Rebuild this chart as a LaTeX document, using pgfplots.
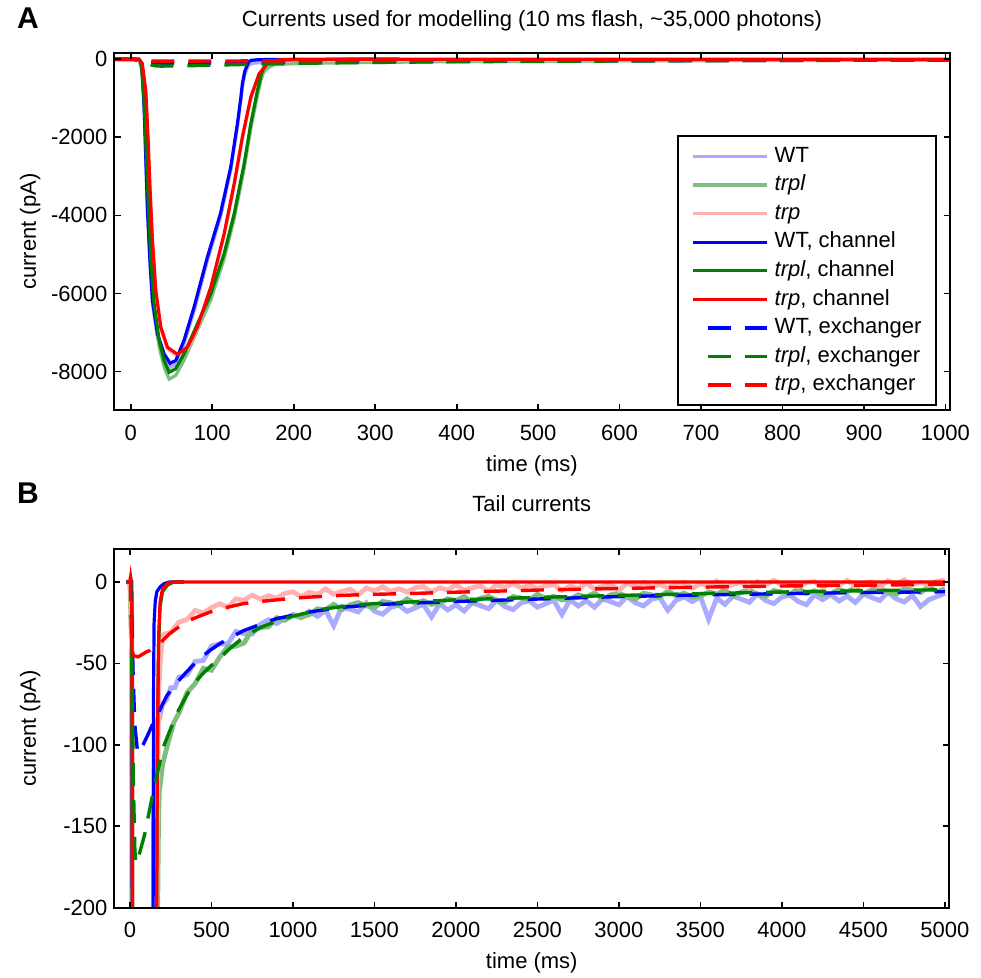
\documentclass[border=0pt]{standalone}
\usepackage{fontspec}
\setmainfont{Liberation Sans}
\usepackage{pgfplots}
\usepackage{pgfplotstable}
\pgfplotsset{compat=1.18}

\definecolor{wtl}{RGB}{170,170,255}
\definecolor{trpll}{RGB}{128,190,128}
\definecolor{trpl}{RGB}{255,178,178}
\definecolor{mblue}{RGB}{0,0,255}
\definecolor{mgreen}{RGB}{0,128,0}
\definecolor{mred}{RGB}{255,0,0}

% ---------- channel currents (model) ----------
\pgfplotstableread{
t I
-20 0
0 0
10 0
12 -50
14.3 -370
16.4 -1220
18.4 -2500
20.4 -3790
23.3 -5070
26.6 -6180
32.7 -7030
40.9 -7550
48.3 -7790
55.2 -7720
65.4 -7200
77.7 -6350
94 -5070
110 -3960
122.7 -2760
130.9 -1650
135 -1000
137 -620
140 -300
143 -150
145 -60
148 -25
155 -12
165 -6
185 -3
210 -1
245 0
330 0
}\wtch
\pgfplotstableread{
t I
-20 0
0 0
10 0
13 -100
16.4 -1050
19.2 -2500
21.7 -3790
24.5 -5070
28.6 -6260
34.8 -7200
40.9 -7720
47 -8020
55.2 -7930
65.4 -7550
81.8 -6780
98.2 -6010
114.6 -4980
126.9 -3960
139.2 -2670
147.3 -1650
155.5 -800
160 -400
163 -220
166 -150
170 -90
175 -40
185 -15
200 -6
230 -2
270 0
330 0
}\trplch
\pgfplotstableread{
t I
-20 0
0 0
4 3
8 0
10 0
14 -100
18.4 -800
21.3 -2080
23.7 -3360
26.6 -4640
30.7 -5920
36.8 -6860
45 -7380
57.2 -7560
69.5 -7380
81.8 -6860
98.2 -5840
114.6 -4470
126.9 -3190
137 -1990
147.3 -970
157.5 -370
167.8 -110
172 -60
177 -30
185 -12
200 -4
230 -1
260 0
5000 0
}\trpch

% ---------- exchanger currents (model) ----------
\pgfplotstableread{
t I
-20 0
5 0
10 -20
20 -60
30 -88
47 -105
80 -100
109 -94
140 -87
181 -79
225 -70
286 -62
340 -56
388 -51
440 -46
491 -42
550 -38
600 -35
695 -30
800 -26
900 -22.5
1000 -20.5
1100 -18.5
1200 -17
1310 -15.5
1500 -14
1720 -13
2000 -12
2500 -10.5
3000 -9
3500 -8
4000 -7.2
4500 -6.5
5000 -6
}\wtex
\pgfplotstableread{
t I
-20 0
5 0
10 -40
20 -120
30 -165
37 -173
60 -166
90 -155
120 -140
150 -125
180 -112
210 -100
250 -90
286 -81
340 -71
388 -63
440 -57
491 -52
550 -47
600 -42
695 -34
800 -28
900 -24
1000 -21
1104 -18.5
1200 -16.5
1310 -15
1500 -13.3
1720 -12.3
2000 -11
2500 -9.5
3000 -8.3
3500 -7.2
4000 -6.2
4500 -5.4
5000 -4.8
}\trplex
\pgfplotstableread{
t I
-20 0
3 0
8 -25
15 -45
50 -46
100 -43
123 -42
181 -38
240 -32
286 -28.6
340 -25
388 -22.5
440 -20.5
491 -18.5
600 -15.5
695 -13.3
800 -12
900 -11
1000 -10
1104 -9.3
1310 -8.2
1500 -7.6
1720 -7.1
2000 -6.3
2500 -5
3000 -4
3500 -3.2
4000 -2.5
4500 -2
5000 -1.5
}\trpex

% ---------- measured currents ----------
\pgfplotstableread{
t I
-20 0
0 0
10 -20
12 -80
14.3 -430
16.4 -1290
18.4 -2580
20.4 -3880
23.3 -5160
26.6 -6280
32.7 -7130
40.9 -7655
48.3 -7895
55.2 -7820
65.4 -7300
77.7 -6450
94 -5165
110 -4055
122.7 -2850
130.9 -1740
137 -710
140 -390
143 -235
145 -150
148 -115
152 -95
155 -91
165 -85
180 -84
200 -75
225 -72
250 -65
275 -65
300 -58.5
350 -57
400 -48.8
450 -48.2
500 -39.4
550 -38
600 -38
650 -30.4
700 -31.8
750 -32
800 -26
850 -23.2
900 -25.5
950 -22.5
1000 -20
1050 -22
1100 -18
1150 -21.2
1200 -17.5
1250 -26.8
1300 -15.1
1350 -16.8
1400 -18.4
1450 -12.9
1500 -18
1550 -19.8
1600 -15.5
1650 -14.3
1700 -18.1
1750 -15.9
1800 -13.7
1850 -21.5
1900 -13.4
1950 -17.2
2000 -14
2050 -17.9
2100 -12.7
2150 -14.6
2200 -16.4
2250 -11.3
2300 -15.1
2350 -17
2400 -12.8
2450 -11.7
2500 -15.5
2550 -13.4
2600 -11.2
2650 -20
2700 -10.9
2750 -14.8
2800 -11.6
2850 -15.5
2900 -10.3
2950 -12.2
3000 -14
3050 -8.9
3100 -12.8
3150 -14.7
3200 -10.6
3250 -9.5
3300 -17.4
3350 -11.3
3400 -9.2
3450 -12.1
3500 -9
3550 -22.9
3600 -9.9
3650 -13.8
3700 -8.7
3750 -10.6
3800 -12.5
3850 -7.4
3900 -11.4
3950 -13.3
4000 -9.2
4050 -8.1
4100 -12
4150 -14
4200 -7.9
4250 -10.9
4300 -7.8
4350 -11.7
4400 -8.7
4450 -12.6
4500 -7.5
4550 -9.5
4600 -11.4
4650 -6.4
4700 -10.3
4750 -12.3
4800 -8.2
4850 -15.1
4900 -11
4950 -9
5000 -7
}\wtm
\pgfplotstableread{
t I
-20 0
0 0
10 -40
13 -175
16.4 -1150
19.2 -2620
21.7 -3925
24.5 -5220
28.6 -6420
34.8 -7370
40.9 -7893
47 -8195
55.2 -8100
65.4 -7710
81.8 -6940
98.2 -6165
114.6 -5115
126.9 -4090
139.2 -2795
147.3 -1775
155.5 -922
160 -518
163 -336
166 -264
170 -200
175 -147
180 -128
185 -125
200 -112
230 -100
270 -86
300 -80.6
350 -67.9
400 -62.4
450 -53
500 -54.2
550 -46.2
600 -39.8
650 -39.4
700 -37.5
750 -29.3
800 -28
850 -27.5
900 -22
950 -23.5
1000 -20.5
1050 -21.7
1100 -20.1
1150 -16.5
1200 -17
1250 -13.8
1300 -17.1
1350 -14.1
1400 -12.7
1450 -14.7
1500 -15.8
1550 -12
1600 -12.8
1650 -14.1
1700 -10.4
1750 -13.2
1800 -11.5
1850 -13.8
1900 -13
1950 -10.3
2000 -11.5
2050 -8.9
2100 -12.7
2150 -10.1
2200 -8.9
2250 -11.3
2300 -12.6
2350 -9
2400 -9.8
2450 -11.2
2500 -7.5
2550 -10.4
2600 -8.8
2650 -11.1
2700 -10.5
2750 -7.9
2800 -9.3
2850 -6.7
2900 -10.5
2950 -7.9
3000 -6.8
3050 -9.2
3100 -10.6
3150 -7
3200 -7.9
3250 -9.3
3300 -5.6
3350 -8.5
3400 -6.9
3450 -9.3
3500 -8.7
3550 -6.1
3600 -7.5
3650 -4.9
3700 -8.8
3750 -6.2
3800 -5.1
3850 -7.5
3900 -8.9
3950 -5.3
4000 -6.2
4050 -7.6
4100 -4
4150 -7
4200 -5.4
4250 -7.8
4300 -7.2
4350 -4.6
4400 -6.1
4450 -3.5
4500 -7.4
4550 -4.8
4600 -3.8
4650 -6.2
4700 -7.7
4750 -4.1
4800 -5
4850 -6.5
4900 -2.9
4950 -5.9
5000 -4.3
}\trplm
\pgfplotstableread{
t I
-20 0
0 0
4 3
8 -25
10 -35
14 -145
18.4 -845
21.3 -2125
23.7 -3405
26.6 -4685
30.7 -5965
36.8 -6905
45 -7426
57.2 -7606
69.5 -7425
81.8 -6904
98.2 -5883
114.6 -4513
126.9 -3232
137 -2031
147.3 -1010
157.5 -408
163 -220
167.8 -149
172 -98
177 -67
185 -50
200 -32.4
250 -30.9
300 -24.7
350 -23
400 -17.5
450 -19.1
500 -15.8
550 -13.4
600 -15.5
650 -10.4
700 -11.2
750 -8.1
800 -10.5
850 -8.5
900 -10
950 -7
1000 -6
1050 -9.15
1100 -6.3
1150 -7.55
1200 -4.3
1250 -7.5
1300 -5.75
1350 -4.57
1400 -7.9
1450 -3.75
1500 -5.6
1550 -2.98
1600 -5.85
1650 -4.25
1700 -6.15
1750 -3.53
1800 -2.9
1850 -6.25
1900 -3.6
1950 -4.95
2000 -1.8
2050 -5.17
2100 -3.54
2150 -2.41
2200 -5.78
2250 -1.65
2300 -3.52
2350 -0.89
2400 -3.76
2450 -2.13
2500 -4
2550 -2.4
2600 -1.8
2650 -5.2
2700 -2.6
2750 -4
2800 -0.9
2850 -4.3
2900 -2.7
2950 -1.6
3000 -5
3050 -0.92
3100 -2.84
3150 -0.26
3200 -3.18
3250 -1.6
3300 -3.52
3350 -0.94
3400 -0.36
3450 -3.78
3500 -1.2
3550 -2.63
3600 0.44
3650 -2.99
3700 -1.42
3750 -0.35
3800 -3.78
3850 0.29
3900 -1.64
3950 0.93
4000 -2
4050 -0.95
4100 -2.9
4150 -0.35
4200 0.2
4250 -3.25
4300 -0.7
4350 -2.15
4400 0.9
4450 -2.55
4500 -1
4550 0.05
4600 -3.4
4650 0.65
4700 -1.3
4750 1.25
4800 -1.7
4850 -0.15
4900 -2.1
4950 0.45
5000 1
}\trpm

\pgfplotsset{
  mat/.style={
    scale only axis,
    axis on top,
    tick align=inside,
    major tick length=3pt,
    axis line style={line width=1pt},
    every tick/.style={black, line width=0.9pt},
    tick label style={font=\fontsize{11}{13}\selectfont},
    xticklabel style={yshift=-3.8pt},
    label style={font=\fontsize{11}{13}\selectfont},
    title style={font=\fontsize{11}{13}\selectfont},
    /pgf/number format/assume math mode=true,
    /pgf/number format/set thousands separator={},
    scaled ticks=false,
    legend image code/.code={\draw[#1] (0pt,0pt) -- (37pt,0pt);},
  },
  lite/.style={line width=1.6pt},
  liteB/.style={line width=2.4pt},
  solid2/.style={line width=1.6pt},
  dash2/.style={line width=1.7pt, dash pattern=on 11.5pt off 7pt,
     legend image code/.code={\draw[##1] (7.5pt,0pt) -- (37pt,0pt);}},
}

\begin{document}
\begin{tikzpicture}
\path[use as bounding box] (0pt,0pt) rectangle (490.5pt,-489pt);

\node[font=\fontsize{15}{18}\selectfont\bfseries] at (14pt,-9pt) {A};
\node[font=\fontsize{15}{18}\selectfont\bfseries] at (14pt,-246.5pt) {B};

% ---------------- Panel A ----------------
\begin{axis}[mat,
  at={(57.25pt,-205.25pt)}, anchor=south west,
  width=417.5pt, height=178.9pt,
  xmin=-20, xmax=1005, ymin=-9000, ymax=170,
  xtick={0,100,...,1000}, ytick={-8000,-6000,-4000,-2000,0},
  title={Currents used for modelling (10 ms flash, \textasciitilde35,000 photons)},
  title style={at={(axis description cs:0.5,1.055)}, anchor=center},
  xlabel={time (ms)},
  xlabel style={at={(axis description cs:0.5,-0.155)}, anchor=center},
  ylabel={current (pA)},
  ylabel style={at={(axis description cs:-0.101,0.5)}, anchor=center, rotate=0},
  legend cell align=left,
  legend style={at={(0.9856,0.770)}, anchor=north east, draw=black, line width=1pt,
    inner xsep=6.5pt, inner ysep=3pt, row sep=0pt, column sep=2pt,
    font=\fontsize{11}{13}\selectfont,
    nodes={inner sep=1pt, text height=9pt, text depth=3.3pt}},
]
\addplot[lite, color=wtl] table {\wtm};
\addlegendentry{WT}
\addplot[lite, color=trpll] table {\trplm};
\addlegendentry{\textit{trpl}}
\addplot[lite, color=trpl] table {\trpm};
\addlegendentry{\textit{trp}}
\addplot[solid2, color=mblue] table {\wtch};
\addlegendentry{WT, channel}
\addplot[solid2, color=mgreen] table {\trplch};
\addlegendentry{\textit{trpl}, channel}
\addplot[solid2, color=mred] table {\trpch};
\addlegendentry{\textit{trp}, channel}
\addplot[dash2, color=mblue] table {\wtex};
\addlegendentry{WT, exchanger}
\addplot[dash2, color=mgreen] table {\trplex};
\addlegendentry{\textit{trpl}, exchanger}
\addplot[dash2, color=mred] table {\trpex};
\addlegendentry{\textit{trp}, exchanger}
\end{axis}

% ---------------- Panel B ----------------
\begin{axis}[mat,
  at={(57.25pt,-454pt)}, anchor=south west,
  width=417.25pt, height=179.25pt,
  xmin=-95, xmax=5025, ymin=-200, ymax=20,
  xtick={0,500,...,5000}, ytick={-200,-150,-100,-50,0},
  title={Tail currents},
  title style={at={(axis description cs:0.5,1.093)}, anchor=center},
  xlabel={time (ms)},
  xlabel style={at={(axis description cs:0.5,-0.153)}, anchor=center},
  ylabel={current (pA)},
  ylabel style={at={(axis description cs:-0.101,0.5)}, anchor=center},
]
\addplot[liteB, color=wtl] table {\wtm};
\addplot[liteB, color=trpll] table {\trplm};
\addplot[liteB, color=trpl] table {\trpm};
\addplot[solid2, color=mblue] table {\wtch};
\addplot[solid2, color=mgreen] table {\trplch};
\addplot[solid2, color=mred] table {\trpch};
\addplot[dash2, color=mblue] table {\wtex};
\addplot[dash2, color=mgreen] table {\trplex};
\addplot[dash2, color=mred] table {\trpex};
\end{axis}
\end{tikzpicture}
\end{document}
